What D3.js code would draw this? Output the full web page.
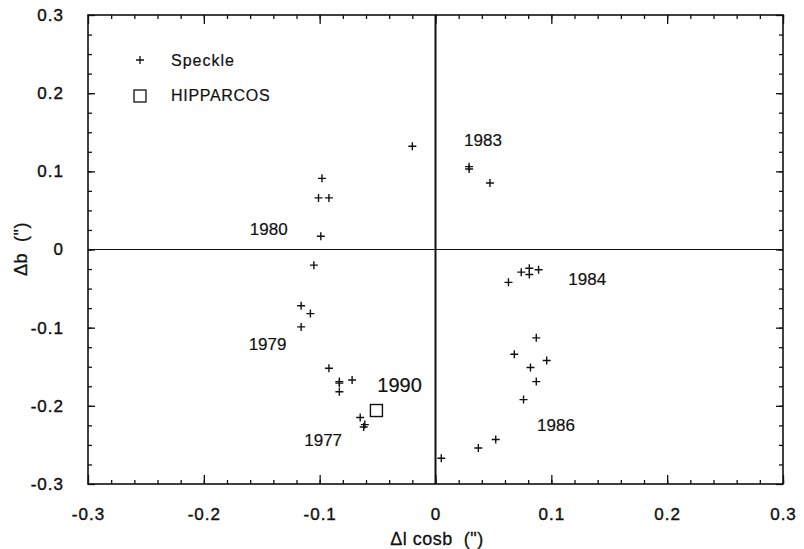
<!DOCTYPE html>
<html>
<head>
<meta charset="utf-8">
<script src="https://cdn.jsdelivr.net/npm/d3@7"></script>
<style>
  body { margin: 0; background: #fff; }
  text { font-family: "Liberation Sans", Arial, sans-serif; fill: #111; white-space: pre; }
</style>
</head>
<body>
<script>
// speckle measurements (dl cosb, db) in arcsec
var speckleX = [-0.020, -0.098, -0.101, -0.092, -0.099, -0.105, -0.116, -0.108, -0.116,
                -0.092, -0.083, -0.083, -0.083, -0.072, -0.065, -0.061, -0.062,
                 0.029, 0.029, 0.047,
                 0.063, 0.074, 0.081, 0.081, 0.089,
                 0.087, 0.068, 0.096, 0.082, 0.087, 0.076, 0.052, 0.037, 0.005];
var speckleY = [0.132, 0.091, 0.066, 0.066, 0.017, -0.020, -0.072, -0.082, -0.099,
                -0.152, -0.169, -0.171, -0.182, -0.167, -0.215, -0.224, -0.227,
                 0.106, 0.103, 0.085,
                -0.042, -0.029, -0.024, -0.032, -0.026,
                -0.113, -0.134, -0.142, -0.151, -0.169, -0.192, -0.243, -0.254, -0.267];
var hipX = [-0.051];
var hipY = [-0.206];

var years = ["1980", "1979", "1977", "1990", "1983", "1984", "1986"];
var yearX = [-0.144, -0.145, -0.097, -0.031, 0.041, 0.131, 0.104];
var yearY = [0.019, -0.128, -0.251, -0.182, 0.132, -0.046, -0.232];

var xTicks = [-0.3, -0.2, -0.1, 0, 0.1, 0.2, 0.3];
var yTicks = [-0.3, -0.2, -0.1, 0, 0.1, 0.2, 0.3];

var W = 804, H = 549;
var svg = d3.select("body").append("svg")
    .attr("width", W)
    .attr("height", H);

var x = d3.scaleLinear().domain([-0.3, 0.3]).range([88, 783]);
var y = d3.scaleLinear().domain([-0.3, 0.3]).range([484, 15]);

var fmt = function(d){ return d === 0 ? "0" : String(+d.toFixed(1)); };
var xMinor = d3.range(-0.28, 0.3, 0.02).map(function(d){ return +d.toFixed(2); });
var yMinor = d3.range(-0.275, 0.3, 0.025).map(function(d){ return +d.toFixed(3); });

function styleAxis(g, labels){
  g.select(".domain").remove();
  g.selectAll("line").attr("stroke", "#111").attr("stroke-width", 1.3);
  g.selectAll("text")
    .style("font-size", labels ? "17px" : "0px")
    .style("letter-spacing", "1px")
    .attr("stroke", "#111").attr("stroke-width", 0.4)
    .attr("fill", "#111");
}

// bottom
svg.append("g").attr("transform", "translate(0," + y.range()[0] + ")")
  .call(d3.axisBottom(x).tickValues(xTicks).tickSize(-9).tickPadding(24).tickFormat(fmt))
  .call(styleAxis, true);
svg.append("g").attr("transform", "translate(0," + y.range()[0] + ")")
  .call(d3.axisBottom(x).tickValues(xMinor).tickSize(-4).tickFormat(""))
  .call(styleAxis, false);
// top
svg.append("g").attr("transform", "translate(0," + y.range()[1] + ")")
  .call(d3.axisTop(x).tickValues(xTicks).tickSize(-9).tickFormat(""))
  .call(styleAxis, false);
svg.append("g").attr("transform", "translate(0," + y.range()[1] + ")")
  .call(d3.axisTop(x).tickValues(xMinor).tickSize(-4).tickFormat(""))
  .call(styleAxis, false);
// left
svg.append("g").attr("transform", "translate(" + x.range()[0] + ",0)")
  .call(d3.axisLeft(y).tickValues(yTicks).tickSize(-7).tickPadding(24).tickFormat(fmt))
  .call(styleAxis, true);
svg.append("g").attr("transform", "translate(" + x.range()[0] + ",0)")
  .call(d3.axisLeft(y).tickValues(yMinor).tickSize(-4).tickFormat(""))
  .call(styleAxis, false);
// right
svg.append("g").attr("transform", "translate(" + x.range()[1] + ",0)")
  .call(d3.axisRight(y).tickValues(yTicks).tickSize(-7).tickFormat(""))
  .call(styleAxis, false);
svg.append("g").attr("transform", "translate(" + x.range()[1] + ",0)")
  .call(d3.axisRight(y).tickValues(yMinor).tickSize(-4).tickFormat(""))
  .call(styleAxis, false);

// frame
svg.append("rect")
  .attr("x", x.range()[0]).attr("y", y.range()[1])
  .attr("width", x.range()[1] - x.range()[0])
  .attr("height", y.range()[0] - y.range()[1])
  .attr("fill", "none").attr("stroke", "#111").attr("stroke-width", 1.6);

// zero lines
svg.append("line")
  .attr("x1", x(0)).attr("x2", x(0))
  .attr("y1", y.range()[1]).attr("y2", y.range()[0])
  .attr("stroke", "#111").attr("stroke-width", 2);
svg.append("line")
  .attr("x1", x.range()[0]).attr("x2", x.range()[1])
  .attr("y1", y(0)).attr("y2", y(0))
  .attr("stroke", "#111").attr("stroke-width", 1.2);

// speckle crosses
var s = 4;
var pts = speckleX.map(function(d, i){ return {x: d, y: speckleY[i]}; });
var cross = svg.selectAll("g.speckle")
  .data(pts)
  .enter()
  .append("g")
  .attr("class", "speckle")
  .attr("transform", function(d){ return "translate(" + x(d.x) + "," + y(d.y) + ")"; });
cross.append("path")
  .attr("d", "M" + (-s) + ",0H" + s + "M0," + (-s) + "V" + s)
  .attr("stroke", "#111").attr("stroke-width", 1.4).attr("fill", "none");

// hipparcos square
svg.selectAll("rect.hip")
  .data(hipX.map(function(d, i){ return {x: d, y: hipY[i]}; }))
  .enter()
  .append("rect")
  .attr("class", "hip")
  .attr("x", function(d){ return x(d.x) - 6; })
  .attr("y", function(d){ return y(d.y) - 6; })
  .attr("width", 12).attr("height", 12)
  .attr("fill", "none").attr("stroke", "#111").attr("stroke-width", 1.4);

// year labels
svg.selectAll("text.year")
  .data(years)
  .enter()
  .append("text")
  .attr("class", "year")
  .attr("x", function(d, i){ return x(yearX[i]); })
  .attr("y", function(d, i){ return y(yearY[i]); })
  .attr("text-anchor", "middle")
  .attr("stroke", "#111").attr("stroke-width", 0.2)
  .style("font-size", function(d){ return d === "1990" ? "20px" : "17px"; })
  .text(function(d){ return d; });

// legend
svg.append("path")
  .attr("d", "M136,60H144M140,56V64")
  .attr("stroke", "#111").attr("stroke-width", 1.3);
svg.append("text").attr("x", 171).attr("y", 66).style("font-size", "16px")
  .style("letter-spacing", "1px").attr("stroke", "#111").attr("stroke-width", 0.2)
  .text("Speckle");
svg.append("rect").attr("x", 134).attr("y", 90).attr("width", 12).attr("height", 12)
  .attr("fill", "none").attr("stroke", "#111").attr("stroke-width", 1.3);
svg.append("text").attr("x", 171).attr("y", 101).style("font-size", "16px")
  .style("letter-spacing", "0.7px").attr("stroke", "#111").attr("stroke-width", 0.2)
  .text("HIPPARCOS");

// axis titles
svg.append("text")
  .attr("x", 437).attr("y", 545)
  .attr("text-anchor", "middle")
  .style("font-size", "18px")
  .style("letter-spacing", "0.5px")
  .attr("stroke", "#111").attr("stroke-width", 0.3)
  .text("\u0394l cosb  (\")");
svg.append("text")
  .attr("transform", "translate(27,249) rotate(-90)")
  .attr("text-anchor", "middle")
  .style("font-size", "18px")
  .style("letter-spacing", "0.5px")
  .attr("stroke", "#111").attr("stroke-width", 0.3)
  .text("\u0394b  (\")");
</script>
</body>
</html>
